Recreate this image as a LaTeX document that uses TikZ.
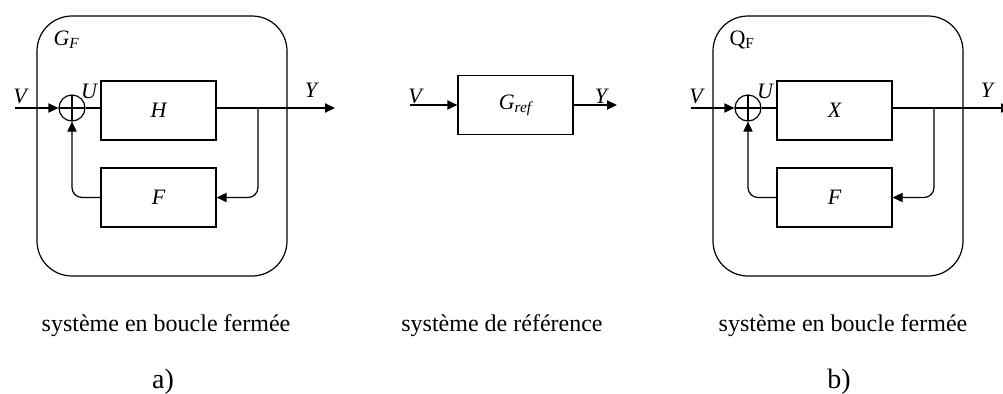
\documentclass[tikz,border=0pt]{standalone}
\usepackage{fontspec}
\setmainfont{Liberation Serif}
\usepackage{tikz}
\usetikzlibrary{arrows.meta, positioning}

\begin{document}
\begin{tikzpicture}[
  x=0.5pt, y=-0.5pt, line width=0.6pt,
  >={Triangle[length=5pt,width=4.6pt]},
  frame/.style={draw, rounded corners=17.5pt, minimum width=125pt, minimum height=130pt, inner sep=0pt},
  blk/.style={draw, minimum width=57.5pt, minimum height=29.5pt, inner sep=0pt, font=\fontsize{11}{13}\selectfont\itshape},
  sum/.style={draw, circle, minimum size=13pt, inner sep=0pt,
    path picture={\draw (path picture bounding box.north) -- (path picture bounding box.south)
                        (path picture bounding box.west) -- (path picture bounding box.east);}},
  sig/.style={anchor=base, inner sep=0pt, font=\fontsize{11}{13}\selectfont\itshape},
  caption/.style={anchor=base, inner sep=0pt, font=\fontsize{12}{14}\selectfont},
  tag/.style={anchor=base, inner sep=0pt, font=\fontsize{14}{16}\selectfont}
]
  \clip (0,0) rectangle (1003,393);

  % a) closed loop with H
  \node[frame] (frameA) at (162,146) {};
  \node[anchor=base west, inner sep=0pt, font=\fontsize{11}{13}\selectfont\itshape] (nameA) at (53,45) {G\textsubscript{F}};
  \node[sum] (sumA) at (72,108) {};
  \node[blk] (fwdA) at (158.5,110.5) {H};
  \node[blk] (fbA) at (158.5,197.5) {F};
  \coordinate (inA) at (15,108);
  \coordinate (outA) at (335,108);
  \coordinate (brA) at (258,108);
  \draw[->] (inA) -- (sumA.west);
  \draw (sumA.east) -- (fwdA.west |- sumA.east);
  \draw[->] (fwdA.east |- brA) -- (outA);
  \draw[->, rounded corners=5pt] (brA) |- (fbA.east);
  \draw[->, rounded corners=5pt] (fbA.west) -| (sumA.south);
  \node[sig] (vA) at (20,103) {V};
  \node[sig] (uA) at (89,98) {U};
  \node[sig] (yA) at (311,97) {Y};
  \node[caption] (capA) at (166,331) {système en boucle fermée};
  \node[tag] (tagA) at (163,388) {a)};

  % reference system
  \node[blk] (ref) at (515.5,105) {G\textsubscript{ref}};
  \coordinate (inR) at (410,105);
  \coordinate (outR) at (617,105);
  \draw[->] (inR) -- (ref.west);
  \draw[->] (ref.east) -- (outR);
  \node[sig] (vR) at (415,103) {V};
  \node[sig] (yR) at (601,103) {Y};
  \node[caption] (capR) at (502,331) {système de référence};

  % b) closed loop with X
  \node[frame] (frameB) at (838,146) {};
  \node[anchor=base west, inner sep=0pt, font=\fontsize{11}{13}\selectfont] (nameB) at (729,45) {Q\textsubscript{F}};
  \node[sum] (sumB) at (748,108) {};
  \node[blk] (fwdB) at (834.5,110.5) {X};
  \node[blk] (fbB) at (834.5,197.5) {F};
  \coordinate (inB) at (691,108);
  \coordinate (outB) at (1011,108);
  \coordinate (brB) at (934,108);
  \draw[->] (inB) -- (sumB.west);
  \draw (sumB.east) -- (fwdB.west |- sumB.east);
  \draw[->] (fwdB.east |- brB) -- (outB);
  \draw[->, rounded corners=5pt] (brB) |- (fbB.east);
  \draw[->, rounded corners=5pt] (fbB.west) -| (sumB.south);
  \node[sig] (vB) at (696,103) {V};
  \node[sig] (uB) at (765,98) {U};
  \node[sig] (yB) at (987,97) {Y};
  \node[caption] (capB) at (843,331) {système en boucle fermée};
  \node[tag] (tagB) at (839,388) {b)};
\end{tikzpicture}
\end{document}
